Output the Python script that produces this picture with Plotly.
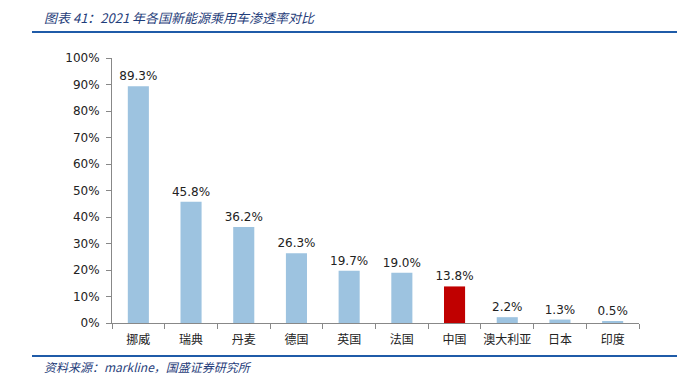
import plotly.graph_objects as go

countries = ["挪威", "瑞典", "丹麦", "德国", "英国", "法国", "中国", "澳大利亚", "日本", "印度"]
penetration = [89.3, 45.8, 36.2, 26.3, 19.7, 19.0, 13.8, 2.2, 1.3, 0.5]
y_ticks = [0, 10, 20, 30, 40, 50, 60, 70, 80, 90, 100]
title_text = "图表 41：2021 年各国新能源乘用车渗透率对比"
source_text = "资料来源：markline，国盛证券研究所"

colors = ["#C00000" if c == "中国" else "#9DC3E0" for c in countries]

OFF = 8  # page body margin
W, H = 689 - OFF, 374 - OFF
L, R, T, B = 112 - OFF, 50, 58 - OFF, 51
PW, PH = W - L - R, H - T - B


def px_x(x):
    return (x - OFF - L) / PW


def px_y(y):
    return (H - B - (y - OFF)) / PH


fig = go.Figure()
fig.add_trace(go.Bar(
    x=countries, y=penetration, marker=dict(color=colors, line=dict(width=0)),
    width=0.4,
    text=[f"{v:.1f}%" for v in penetration], textposition="outside",
    constraintext="none",
    textfont=dict(family="DejaVu Sans, sans-serif", size=12, color="#222222"),
    cliponaxis=False,
))

fig.update_layout(
    width=W, height=H,
    margin=dict(l=L, r=R, t=T, b=B, pad=0, autoexpand=False),
    plot_bgcolor="white", paper_bgcolor="white",
    showlegend=False,
    font=dict(family="Noto Sans CJK SC, sans-serif", size=12, color="#222222"),
    xaxis=dict(
        showline=True, linecolor="#888888", linewidth=1,
        ticks="outside", ticklen=5, tickcolor="#888888",
        tickson="boundaries", tickangle=0, automargin=False,
        tickfont=dict(family="Noto Sans CJK SC", size=12, color="#222222"),
        ticklabelstandoff=6,
        showgrid=False,
    ),
    yaxis=dict(
        range=[0, 100], tickvals=y_ticks, ticktext=[f"{v}%" for v in y_ticks],
        showline=True, linecolor="#888888", linewidth=1,
        ticks="outside", ticklen=5, tickcolor="#888888",
        showgrid=False, zeroline=False, automargin=False,
        tickfont=dict(family="DejaVu Sans, sans-serif", size=12, color="#222222"),
        ticklabelstandoff=4,
    ),
)

for ypix in (32, 356):
    fig.add_shape(type="line", xref="paper", yref="paper",
                  x0=px_x(32), x1=px_x(677), y0=px_y(ypix), y1=px_y(ypix),
                  line=dict(color="#1F5BA8", width=2))

fig.add_annotation(text="<i>" + title_text + "</i>", xref="paper", yref="paper",
                   x=px_x(42), y=px_y(17),
                   xanchor="left", yanchor="middle", showarrow=False,
                   font=dict(family="Noto Sans CJK SC", size=13, color="#1F3D7A"))
fig.add_annotation(text="<i>" + source_text + "</i>", xref="paper", yref="paper",
                   x=px_x(42), y=px_y(366),
                   xanchor="left", yanchor="middle", showarrow=False,
                   font=dict(family="Noto Sans CJK SC", size=12, color="#1F3D7A"))

fig.write_html("out.html")
